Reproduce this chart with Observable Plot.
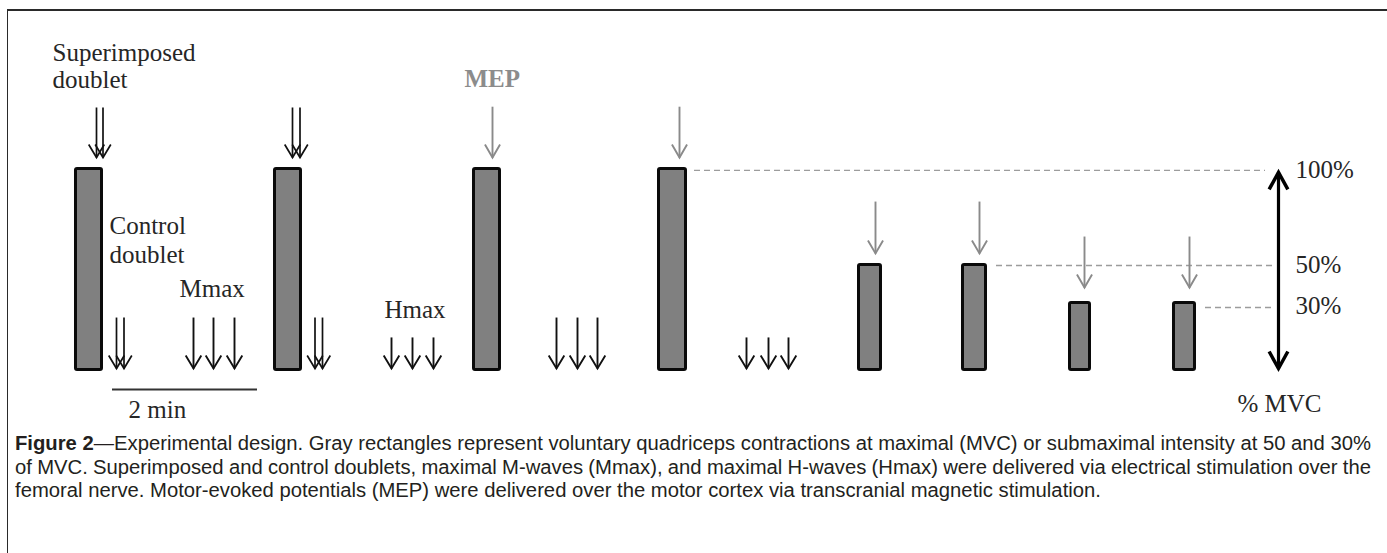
<!DOCTYPE html>
<html><head><meta charset="utf-8">
<script src="https://cdn.jsdelivr.net/npm/d3@7"></script>
<script src="https://cdn.jsdelivr.net/npm/@observablehq/plot@0.6"></script>
<style>
html,body{margin:0;padding:0;background:#fff;overflow:hidden;}
#wrap{position:relative;width:1387px;height:553px;overflow:hidden;}
#frame{position:absolute;left:7px;top:9px;width:1500px;height:700px;border-top:2px solid #2a2a2a;border-left:1.5px solid #2a2a2a;}
#chart{position:absolute;left:0;top:0;}
#caption{position:absolute;left:15px;top:432px;width:1360px;font-family:"Liberation Sans",Arial,sans-serif;font-size:20px;color:#231f20;}
.line{white-space:nowrap;height:23.5px;line-height:23.5px;}
.line span{display:inline-block;transform-origin:0 50%;}
</style></head><body>
<div id="wrap"><div id="frame"></div><div id="chart"></div><div id="caption"></div></div>
<script>
// ---- Data (timeline position t, level in % MVC) ----
// Voluntary contractions (gray rectangles)
const barStart = [75.5, 274.5, 473.5, 658.5, 858.5, 962.5, 1069.5, 1173.5];
const barEnd   = [101.5, 300.5, 499.5, 685.5, 880.5, 985.5, 1089.5, 1194.5];
const barMVC   = [100, 100, 100, 100, 52.2, 52.2, 33.3, 33.3];

// Dashed reference levels
const refLevel = [99.3, 52.0, 31.1];
const refStart = [694, 996, 1205];
const refEnd   = [1265, 1272, 1273];

// Stimulations (arrows): position, shaft top, tip level
const superT = [96, 102.5, 292, 299.5];
const superTop = 130.6, superTip = 105.7;
const controlT = [116, 123.5, 314.5, 322];
const mmaxT = [193, 213, 234, 556, 577, 597];
const hmaxT = [391, 412, 433, 746, 768, 788];
const lowTop = 26.1, hmaxTop = 16.2, lowTip = 0.75;
const mepT    = [492, 679, 875, 979, 1084, 1189];
const mepTop  = [131, 131, 83.8, 83.8, 66.4, 66.4];
const mepTip  = [105.7, 105.7, 58, 58, 41, 41];

// % MVC double arrow
const mvcT = 1278, mvcLow = 0.75, mvcHigh = 98.3;

// Time scale bar (2 min)
const scaleBarStart = [112], scaleBarEnd = [257], scaleBarLevel = [-9.7];

// Text labels
const labelText  = ["Superimposed","doublet","Control","doublet","Mmax","Hmax","2 min","% MVC","100%","50%","30%"];
const labelT     = [52, 52, 109, 109, 179, 384, 128, 1237, 1295, 1295, 1295];
const labelLevel = [153.5, 140.5, 67.9, 53.0, 36.1, 26.1, -24.1, -21.1, 95.3, 48.5, 28.1];
const mepLabel = ["MEP"], mepLabelT = [464], mepLabelLevel = [141];

// Caption
const captionBold = "Figure 2";
const captionLines = [
  "\u2014Experimental design. Gray rectangles represent voluntary quadriceps contractions at maximal (MVC) or submaximal intensity at 50 and 30%",
  "of MVC. Superimposed and control doublets, maximal M-waves (Mmax), and maximal H-waves (Hmax) were delivered via electrical stimulation over the",
  "femoral nerve. Motor-evoked potentials (MEP) were delivered over the motor cortex via transcranial magnetic stimulation."
];
const captionJustify = [true, true, false];
const captionTarget = 1356;

// ---- Helpers ----
function vHead(ratio) {
  return {draw(ctx, size) {
    const r = Math.sqrt(size / Math.PI);
    ctx.moveTo(-ratio * r, -r); ctx.lineTo(0, 0); ctx.lineTo(ratio * r, -r);
  }};
}
const serif = "Liberation Serif, 'Times New Roman', serif";

function stimMarks(ts, top, tip, color, sw, r, ratio) {
  const tops = Array.isArray(top) ? top : ts.map(() => top);
  const tips = Array.isArray(tip) ? tip : ts.map(() => tip);
  return [
    Plot.link(ts, {x1: ts, x2: ts, y1: tops, y2: tips, stroke: color, strokeWidth: sw}),
    Plot.dot(ts, {x: ts, y: tips, r, symbol: vHead(ratio), fill: "none", stroke: color, strokeWidth: sw, strokeLinejoin: "miter"})
  ];
}

const chart = Plot.plot({
  width: 1387, height: 430, margin: 0,
  x: {domain: [0, 1387], range: [0, 1387], axis: null},
  y: {domain: [0, 100], range: [369.5, 168.5], axis: null},
  style: {background: "transparent", overflow: "visible"},
  marks: [
    Plot.ruleY(refLevel, {y: refLevel, x1: refStart, x2: refEnd, stroke: "#9c9c9c", strokeWidth: 1.4, strokeDasharray: "6,4"}),
    Plot.rect(barMVC, {x1: barStart, x2: barEnd, y1: 0, y2: barMVC, fill: "#808080", stroke: "#0a0a0a", strokeWidth: 3, rx: 1.5}),
    ...stimMarks(superT, superTop, superTip, "#111", 1.7, 13, 0.6),
    ...stimMarks(controlT, lowTop, lowTip, "#111", 1.7, 13, 0.6),
    ...stimMarks(mmaxT, lowTop, lowTip, "#111", 1.9, 13, 0.6),
    ...stimMarks(hmaxT, hmaxTop, lowTip, "#111", 1.9, 13, 0.6),
    ...stimMarks(mepT, mepTop, mepTip, "#8a8a8a", 1.9, 13, 0.58),
    Plot.link([mvcT], {x1: [mvcT], x2: [mvcT], y1: [mvcLow], y2: [mvcHigh], stroke: "#000", strokeWidth: 3.2}),
    Plot.dot([mvcT], {x: [mvcT], y: [mvcLow], r: 17, symbol: vHead(0.55), fill: "none", stroke: "#000", strokeWidth: 3.5, strokeLinejoin: "miter"}),
    Plot.dot([mvcT], {x: [mvcT], y: [mvcHigh], r: 17, rotate: 180, symbol: vHead(0.55), fill: "none", stroke: "#000", strokeWidth: 3.5, strokeLinejoin: "miter"}),
    Plot.ruleY(scaleBarLevel, {y: scaleBarLevel, x1: scaleBarStart, x2: scaleBarEnd, stroke: "#333", strokeWidth: 2}),
    Plot.text(labelText, {x: labelT, y: labelLevel, text: labelText, textAnchor: "start", lineAnchor: "bottom", fontFamily: serif, fontSize: 25, fill: "#262626"}),
    Plot.text(mepLabel, {x: mepLabelT, y: mepLabelLevel, text: mepLabel, textAnchor: "start", lineAnchor: "bottom", fontFamily: serif, fontSize: 25, fontWeight: "bold", fill: "#8c8c8c"})
  ]
});
document.getElementById("chart").appendChild(chart);

// ---- Caption ----
const cap = document.getElementById("caption");
const spans = captionLines.map((txt, i) => {
  const div = document.createElement("div"); div.className = "line";
  const span = document.createElement("span");
  if (i === 0) { const b = document.createElement("b"); b.textContent = captionBold; span.appendChild(b); }
  span.appendChild(document.createTextNode(txt));
  div.appendChild(span); cap.appendChild(div);
  return span;
});
const w0 = spans[0].getBoundingClientRect().width;
const k = captionTarget / w0;
spans.forEach((s, i) => {
  if (captionJustify[i] && i > 0) {
    const nat = s.getBoundingClientRect().width;
    const n = (s.textContent.match(/ /g) || []).length;
    s.style.wordSpacing = ((captionTarget / k - nat) / n) + "px";
  }
  s.style.transform = `scaleX(${k})`;
});
</script>
</body></html>
